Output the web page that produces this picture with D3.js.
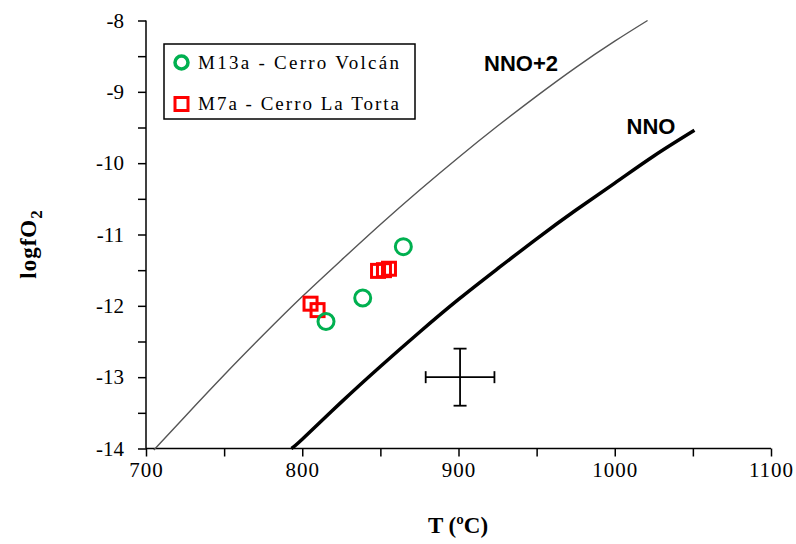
<!DOCTYPE html>
<html><head><meta charset="utf-8">
<script src="https://cdn.jsdelivr.net/npm/d3@7"></script>
<style>body{margin:0;background:#fff}svg{display:block}</style>
</head><body>
<svg id="c" width="796" height="544"></svg>
<script>
// NNO buffer curve (T °C, log fO2)
const nnoT   = [793, 800, 825, 850, 875, 900, 925, 950, 975, 1000, 1025, 1051];
const nnoF   = [-14.0, -13.87, -13.35, -12.85, -12.37, -11.91, -11.48, -11.06, -10.66, -10.28, -9.90, -9.54];
// NNO+2 curve
const nno2T  = [705, 725, 750, 775, 800, 825, 850, 875, 900, 925, 950, 975, 1000, 1021];
const nno2F  = [-14.02, -13.55, -12.97, -12.41, -11.87, -11.36, -10.86, -10.38, -9.92, -9.48, -9.06, -8.66, -8.29, -8.0];
// Samples
const m13aT  = [815.2, 838.7, 864.7];
const m13aF  = [-12.22, -11.89, -11.17];
const m7aT   = [805.3, 809.8, 848.5, 852.3, 855.5];
const m7aF   = [-11.97, -12.06, -11.51, -11.50, -11.48];
// Error bar
const errT = 901, errF = -13, errDT = 22, errDF = 0.4;
const xTicks = [700, 800, 900, 1000, 1100];
const yTicks = [-8, -9, -10, -11, -12, -13, -14];
const legendLabels = ["M13a - Cerro Volcán", "M7a - Cerro La Torta"];

const svg = d3.select("#c");
const x = d3.scaleLinear().domain([700, 1100]).range([146, 771]);
const y = d3.scaleLinear().domain([-14, -8]).range([448.5, 20.5]);
const serif = "'Liberation Serif','Times New Roman',serif";
const sans = "'Liberation Sans',Arial,sans-serif";

// axes
const xAxis = d3.axisBottom(x).tickValues(d3.range(700, 1101, 50)).tickSize(8).tickFormat(d => xTicks.includes(d) ? d : "");
const gx = svg.append("g").attr("transform", `translate(0,${y(-14)})`).call(xAxis);
const yAxis = d3.axisLeft(y).tickValues(d3.range(-14, -7.9, 0.5)).tickSize(8).tickFormat(d => yTicks.includes(d) ? d : "");
const gy = svg.append("g").attr("transform", `translate(${x(700)},0)`).call(yAxis);
[gx, gy].forEach(g => {
  g.select(".domain").remove();
  g.selectAll(".tick line").attr("stroke", "#000").attr("stroke-width", 1.5);
  g.selectAll("text").attr("font-family", serif).attr("font-size", 21).attr("fill", "#000");
});
gx.selectAll("text").attr("dy", "0.85em").attr("letter-spacing", 1);
gy.selectAll("text").attr("dx", "-11px");
svg.append("line").attr("x1", x(700)).attr("x2", x(1100)).attr("y1", y(-14)).attr("y2", y(-14)).attr("stroke", "#000").attr("stroke-width", 1.5);
svg.append("line").attr("x1", x(700)).attr("x2", x(700)).attr("y1", y(-14)).attr("y2", y(-8)).attr("stroke", "#000").attr("stroke-width", 1.5);

// curves
const line = d3.line().x(d => x(d[0])).y(d => y(d[1])).curve(d3.curveNatural);
svg.append("path").datum(nno2T.map((t, i) => [t, nno2F[i]])).attr("d", line)
  .attr("fill", "none").attr("stroke", "#555").attr("stroke-width", 1.4);
svg.append("path").datum(nnoT.map((t, i) => [t, nnoF[i]])).attr("d", line)
  .attr("fill", "none").attr("stroke", "#000").attr("stroke-width", 3.5);

// curve labels
svg.append("text").attr("x", 521).attr("y", 71).attr("text-anchor", "middle")
  .attr("font-family", sans).attr("font-weight", "bold").attr("font-size", 22).text("NNO+2");
svg.append("text").attr("x", 651).attr("y", 134).attr("text-anchor", "middle")
  .attr("font-family", sans).attr("font-weight", "bold").attr("font-size", 22).text("NNO");

// error bar
const eb = svg.append("g").attr("stroke", "#000").attr("stroke-width", 1.8);
eb.append("line").attr("x1", x(errT - errDT)).attr("x2", x(errT + errDT)).attr("y1", y(errF)).attr("y2", y(errF));
eb.append("line").attr("x1", x(errT)).attr("x2", x(errT)).attr("y1", y(errF - errDF)).attr("y2", y(errF + errDF));
[errT - errDT, errT + errDT].forEach(t => eb.append("line").attr("x1", x(t)).attr("x2", x(t)).attr("y1", y(errF) - 6).attr("y2", y(errF) + 6));
[errF - errDF, errF + errDF].forEach(f => eb.append("line").attr("y1", y(f)).attr("y2", y(f)).attr("x1", x(errT) - 6.5).attr("x2", x(errT) + 6.5));

// data points
const sq = 13;
svg.append("g").selectAll("rect").data(m7aT.map((t, i) => [t, m7aF[i]])).join("rect")
  .attr("x", d => x(d[0]) - sq / 2).attr("y", d => y(d[1]) - sq / 2).attr("width", sq).attr("height", sq)
  .attr("fill", "none").attr("stroke", "#ff0000").attr("stroke-width", 3);
svg.append("g").selectAll("circle").data(m13aT.map((t, i) => [t, m13aF[i]])).join("circle")
  .attr("cx", d => x(d[0])).attr("cy", d => y(d[1])).attr("r", 8)
  .attr("fill", "none").attr("stroke", "#00b050").attr("stroke-width", 3);

// legend
const lg = svg.append("g");
lg.append("rect").attr("x", 164).attr("y", 44).attr("width", 251).attr("height", 75)
  .attr("fill", "#fff").attr("stroke", "#000").attr("stroke-width", 1.5);
lg.append("circle").attr("cx", 181.5).attr("cy", 62.5).attr("r", 6.5).attr("fill", "none").attr("stroke", "#00b050").attr("stroke-width", 3.5);
lg.append("rect").attr("x", 175).attr("y", 97.5).attr("width", 13).attr("height", 13).attr("fill", "none").attr("stroke", "#ff0000").attr("stroke-width", 3);
legendLabels.forEach((t, i) => {
  lg.append("text").attr("x", 198).attr("y", 69 + i * 41).attr("font-family", serif).attr("font-size", 19)
    .attr("textLength", 201).attr("lengthAdjust", "spacing").text(t);
});

// axis titles
svg.append("text").attr("x", 458).attr("y", 533).attr("text-anchor", "middle")
  .attr("font-family", serif).attr("font-weight", "bold").attr("font-size", 23).text("T (ºC)");
const yt = svg.append("text").attr("transform", "translate(36,244) rotate(-90)").attr("text-anchor", "middle")
  .attr("font-family", serif).attr("font-weight", "bold").attr("font-size", 23).attr("letter-spacing", 1);
yt.append("tspan").text("logfO");
yt.append("tspan").attr("font-size", 17).attr("dy", 6).text("2");
</script>
</body></html>
